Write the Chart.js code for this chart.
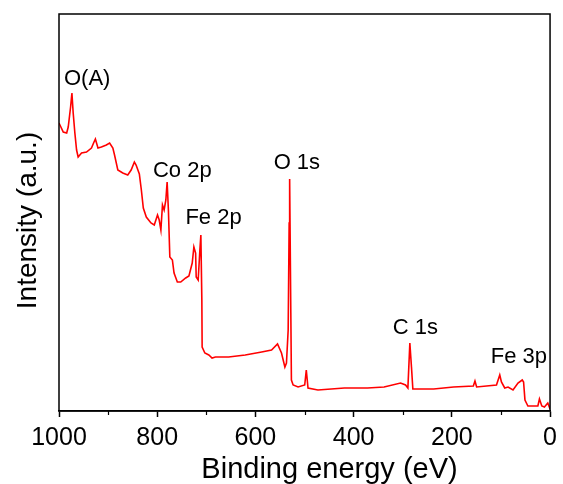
<!DOCTYPE html>
<html>
<head>
<meta charset="utf-8">
<script src="https://cdn.jsdelivr.net/npm/chart.js@4.4.1/dist/chart.umd.min.js"></script>
<style>
  html, body { margin: 0; padding: 0; background: #fff; }
  #wrap { width: 563px; height: 484px; }
</style>
</head>
<body>
<div id="wrap"><canvas id="xps"></canvas></div>
<script>
// survey spectrum (binding energy in eV, intensity in a.u.)
const bindingEnergy = [
  1000, 991.3, 984.4, 981.2, 976.4, 973.7, 971.1, 967.7, 964.2, 961, 954.1, 944, 933.9,
  928.7, 925.9, 920.6, 913.7, 903.6, 896.9, 890.3, 886.9, 880.2, 870.1, 860, 853.1,
  846.5, 843, 836.4, 832.3, 828.3, 822.2, 812.7, 806, 799.4, 795.9, 792.5, 789.3,
  785.9, 782.4, 779.8, 777.2, 774.3, 769.1, 765.7, 759, 752.1, 742, 735.4, 728.7,
  725.3, 721.8, 720.6, 716.6, 713.1, 711.1, 709.1, 708.5, 703, 694.9, 688.3, 681.4,
  654.5, 620.8, 587.3, 567.1, 555, 546.9, 540, 536.8, 533.3, 531.3, 530.3, 527.9,
  526.7, 523.2, 513.1, 499.6, 496.4, 492.9, 472.7, 418.8, 371.7, 338, 304.4, 294.3,
  289.5, 285.5, 282.2, 279.4, 237, 196.6, 156.2, 152.9, 149.5, 109.1, 102.4, 99,
  92.3, 85.5, 75.4, 65.3, 56.6, 53.9, 51.1, 45.1, 24.8, 21.6, 16.8, 11.5, 4.6, 0
];
const intensity = [
  288, 279, 278, 284, 304, 318, 298, 278, 261, 254, 258, 259, 263,
  269, 272, 263, 264, 266, 268, 263, 256, 241, 238, 236, 241,
  249, 246, 237, 221, 203, 194, 188, 186, 196, 191, 181, 206,
  201, 211, 229, 201, 154, 151, 138, 129, 129, 133, 135, 148,
  164, 158, 134, 131, 161, 176, 111, 64, 58, 56, 53, 54,
  54, 56, 59, 61, 67, 58, 44, 48, 81, 188, 232, 98,
  31, 26, 24, 26, 41, 23, 21, 23, 23, 24, 28, 26,
  23, 68, 44, 22, 22, 24, 25, 30, 24, 26, 36, 29,
  23, 24, 21, 28, 31, 29, 11, 5, 5, 12, 5, 4, 8, 2
];

const xTicks = [1000, 800, 600, 400, 200, 0];
const xMinorTicks = [900, 700, 500, 300, 100];

// peak labels: text, binding energy, intensity at text baseline
const peakNames = ['O(A)', 'Co 2p', 'Fe 2p', 'O 1s', 'C 1s', 'Fe 3p'];
const peakNameBE = [942.6, 748.9, 685.3, 515.6, 274.1, 63.6];
const peakNameY = [326, 234, 187, 242, 77, 48];

const FONT = "'Liberation Sans', Arial, sans-serif";

const points = bindingEnergy.map((e, i) => ({ x: e, y: intensity[i] }));

// frame, minor ticks, axis titles and peak labels
const extras = {
  id: 'extras',
  afterDraw(chart) {
    const { ctx, chartArea: a, scales } = chart;
    const sx = scales.x, sy = scales.y;
    ctx.save();
    ctx.strokeStyle = '#000';
    ctx.lineWidth = 1.5;
    ctx.strokeRect(a.left, a.top, a.right - a.left, a.bottom - a.top);

    ctx.lineWidth = 1.2;
    xMinorTicks.forEach(v => {
      const px = Math.round(sx.getPixelForValue(v)) + 0.5;
      ctx.beginPath();
      ctx.moveTo(px, a.bottom);
      ctx.lineTo(px, a.bottom + 4);
      ctx.stroke();
    });

    ctx.fillStyle = '#000';
    ctx.font = '22px ' + FONT;
    ctx.textAlign = 'center';
    ctx.textBaseline = 'alphabetic';
    peakNames.forEach((t, i) => {
      ctx.fillText(t, sx.getPixelForValue(peakNameBE[i]), sy.getPixelForValue(peakNameY[i]));
    });

    // x title sits right of centre in the original
    ctx.font = '29px ' + FONT;
    ctx.fillText('Binding energy (eV)', (a.left + a.right) / 2 + 25, 478);

    // y axis title, a bit below the middle
    ctx.font = '28px ' + FONT;
    ctx.textBaseline = 'middle';
    ctx.translate(28, (a.top + a.bottom) / 2 + 8);
    ctx.rotate(-Math.PI / 2);
    ctx.fillText('Intensity (a.u.)', 0, 0);
    ctx.restore();
  }
};

new Chart(document.getElementById('xps'), {
  type: 'line',
  data: {
    datasets: [{
      data: points,
      borderColor: '#ff0000',
      borderWidth: 1.6,
      pointRadius: 0,
      tension: 0,
      fill: false
    }]
  },
  options: {
    responsive: true,
    maintainAspectRatio: false,
    animation: false,
    layout: { padding: { left: 0, right: 9, top: 14, bottom: 0 } },
    plugins: { legend: { display: false }, tooltip: { enabled: false } },
    scales: {
      x: {
        type: 'linear',
        reverse: true,
        min: 0,
        max: 1000,
        afterBuildTicks: s => { s.ticks = xTicks.map(v => ({ value: v })); },
        afterFit: s => { s.height = 73; },
        ticks: {
          color: '#000',
          padding: 6,
          maxRotation: 0,
          font: { family: FONT, size: 25 },
          callback: v => String(v)
        },
        grid: {
          display: true,
          drawOnChartArea: false,
          drawTicks: true,
          tickLength: 6,
          tickColor: '#000',
          tickWidth: 1.5
        },
        border: { display: true, color: '#000', width: 1.5 },
        title: { display: false }
      },
      y: {
        type: 'linear',
        min: 0,
        max: 397,
        afterFit: s => { s.width = 59; },
        ticks: { display: false },
        grid: { display: false },
        border: { display: false },
        title: { display: false }
      }
    }
  },
  plugins: [extras]
});
</script>
</body>
</html>
